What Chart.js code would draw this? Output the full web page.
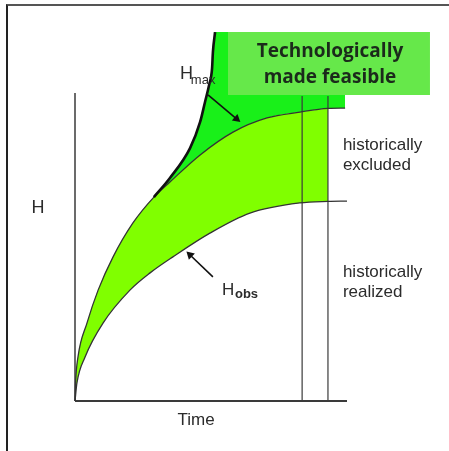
<!DOCTYPE html>
<html><head><meta charset="utf-8">
<script src="https://cdn.jsdelivr.net/npm/chart.js@4"></script>
<style>
html,body{margin:0;padding:0;background:#fff;}
#wrap{position:relative;width:449px;height:451px;overflow:hidden;}
canvas{display:block;}
#frame{position:absolute;left:6px;top:4px;width:443px;height:447px;border-top:2px solid #555;border-left:2px solid #222;box-sizing:border-box;pointer-events:none;}
</style></head><body>
<div id="wrap"><canvas id="c" width="449" height="451"></canvas><div id="frame"></div></div>
<script>
// ---- data (Time 0..100 along the axis, H 0..100 up the axis) ----
const upperTime = [0, 0.2, 1.1, 4.4, 8.5, 14.0, 21.3, 29.0, 34.9, 46.0, 58.1, 70.6, 82.7, 93.0, 99.3];
const upperH    = [0, 5.8, 14.3, 25.3, 36.0, 46.8, 57.8, 66.2, 71.1, 79.9, 87.3, 91.9, 93.8, 95.0, 95.1];
const obsTime   = [0, 0.7, 3.7, 10.3, 20.2, 27.6, 36.0, 49.6, 64.3, 82.7, 93.0, 100];
const obsH      = [0, 5.8, 14.3, 25.3, 36.0, 41.6, 46.8, 54.5, 61.0, 64.3, 64.8, 64.9];
const maxTime   = [29.0, 34.9, 42.3, 46.0, 47.8, 49.3, 50.4, 50.7, 51.5];
const maxH      = [66.2, 72.4, 82.1, 90.6, 97.1, 102.6, 108.1, 113.3, 119.8];
const axisEnd = 100;            // length of both drawn axes
const markerTimes = [83.5, 93.0]; // the two vertical lines
const markerTop = 99;
const bandEnd = 93.0;           // green band ends at the second marker
const feasibleStart = 51.0;
const feasibleTop = 119.8;      // top of the bright green region
const feasibleEnd = 99.3;
const boxCorners = {t0: 56.25, t1: 130.5, h0: 99.35, h1: 119.8};
const arrowMax = [[48.9, 99.4], [59.4, 91.6]];
const arrowObs = [[50.7, 40.3], [42.3, 47.4]];
const texts = [
  {s:'Technologically', t:93.75, h:113.6, font:'bold 19px "Open Sans"', color:'#1b2a1b', align:'center'},
  {s:'made feasible',   t:93.75, h:104.9, font:'bold 19px "Open Sans"', color:'#1b2a1b', align:'center'},
  {s:'historically', t:98.5, h:83.1, font:'17px "Liberation Sans"', color:'#2b2b2b', align:'left'},
  {s:'excluded',     t:98.5, h:76.6, font:'17px "Liberation Sans"', color:'#2b2b2b', align:'left'},
  {s:'historically', t:98.5, h:41.9, font:'17px "Liberation Sans"', color:'#2b2b2b', align:'left'},
  {s:'realized',     t:98.5, h:35.4, font:'17px "Liberation Sans"', color:'#2b2b2b', align:'left'},
  {s:'H',    t:-13.6, h:62.7, font:'18px "Liberation Sans"', color:'#2b2b2b', align:'center'},
  {s:'Time', t:44.5,  h:-6.2, font:'17px "Liberation Sans"', color:'#2b2b2b', align:'center'},
  {s:'H',   t:38.6, h:104.5, font:'18px "Liberation Sans"', color:'#2b2b2b', align:'left', base:'alphabetic'},
  {s:'max', t:42.6, h:103.0, font:'13px "Liberation Sans"', color:'#2b2b2b', align:'left', base:'alphabetic'},
  {s:'H',   t:54.0, h:34.4, font:'17px "Liberation Sans"', color:'#2b2b2b', align:'left', base:'alphabetic'},
  {s:'obs', t:58.8, h:33.4, font:'bold 13px "Liberation Sans"', color:'#2b2b2b', align:'left', base:'alphabetic'}
];

const pts = (ts, hs) => ts.map((t, i) => ({x: t, y: hs[i]}));
const upperPts = pts(upperTime, upperH);
const obsPts = pts(obsTime, obsH);
const maxPts = pts(maxTime, maxH);
const bandPts = upperPts.filter(p => p.x <= bandEnd);

const curve = {pointRadius: 0, fill: false, cubicInterpolationMode: 'monotone'};
const straight = {pointRadius: 0, fill: false, tension: 0};

function arrowRotation(a) {
  return (ctx) => {
    const sx = ctx.chart.scales.x, sy = ctx.chart.scales.y;
    const dx = sx.getPixelForValue(a[1][0]) - sx.getPixelForValue(a[0][0]);
    const dy = sy.getPixelForValue(a[1][1]) - sy.getPixelForValue(a[0][1]);
    return Math.atan2(dx, -dy) * 180 / Math.PI;
  };
}

const datasets = [
  // 0 upper curve line
  Object.assign({data: upperPts, borderColor: '#333', borderWidth: 1.3, order: 2}, curve),
  // 1 observed curve line
  Object.assign({data: obsPts, borderColor: '#333', borderWidth: 1.3, order: 2}, curve),
  // 2 Hmax line
  Object.assign({data: maxPts, borderColor: '#111', borderWidth: 2.6, order: 1}, curve),
  // 3 band fill
  Object.assign({}, curve, {data: bandPts, borderWidth: 0, borderColor: 'rgba(0,0,0,0)', backgroundColor: '#80ff00', fill: {target: 1}, order: 20}),
  // 4 Hmax region fill
  Object.assign({}, curve, {data: maxPts, borderWidth: 0, borderColor: 'rgba(0,0,0,0)', backgroundColor: '#19f019', fill: {target: 0}, order: 20}),
  // 5 region right of Hmax
  Object.assign({}, straight, {data: [{x: feasibleStart, y: feasibleTop}, {x: feasibleEnd, y: feasibleTop}], borderWidth: 0, borderColor: 'rgba(0,0,0,0)', backgroundColor: '#19f019', fill: {target: 0}, order: 20}),
  // 6 text box
  Object.assign({}, straight, {data: [{x: boxCorners.t0, y: boxCorners.h1}, {x: boxCorners.t1, y: boxCorners.h1}, {x: boxCorners.t1, y: boxCorners.h0}, {x: boxCorners.t0, y: boxCorners.h0}], borderWidth: 0, borderColor: 'rgba(0,0,0,0)', backgroundColor: '#66e84a', fill: 'shape', order: 0}),
  // 7 vertical axis
  Object.assign({data: [{x: 0, y: 0}, {x: 0, y: axisEnd}], borderColor: '#3a3a3a', borderWidth: 1.5, order: 3}, straight),
  // 8 horizontal axis
  Object.assign({data: [{x: 0, y: 0}, {x: axisEnd, y: 0}], borderColor: '#3a3a3a', borderWidth: 1.8, order: 3}, straight),
  // 9,10 marker lines
  Object.assign({data: [{x: markerTimes[0], y: 0}, {x: markerTimes[0], y: markerTop}], borderColor: '#3a3a3a', borderWidth: 1.2, order: 3}, straight),
  Object.assign({data: [{x: markerTimes[1], y: 0}, {x: markerTimes[1], y: markerTop}], borderColor: '#3a3a3a', borderWidth: 1.2, order: 3}, straight),
  // 11,12 arrows
  Object.assign({}, straight, {data: arrowMax.map(p => ({x: p[0], y: p[1]})), borderColor: '#111', borderWidth: 1.6, pointRadius: [0, 5], pointStyle: 'triangle', pointBackgroundColor: '#111', pointBorderWidth: 0, pointRotation: arrowRotation(arrowMax), order: 1}),
  Object.assign({}, straight, {data: arrowObs.map(p => ({x: p[0], y: p[1]})), borderColor: '#111', borderWidth: 1.6, pointRadius: [0, 5], pointStyle: 'triangle', pointBackgroundColor: '#111', pointBorderWidth: 0, pointRotation: arrowRotation(arrowObs), order: 1})
];

const textPlugin = {
  id: 'texts',
  afterDatasetsDraw(chart) {
    const c = chart.ctx, sx = chart.scales.x, sy = chart.scales.y;
    c.save();
    texts.forEach(o => {
      c.font = o.font; c.fillStyle = o.color; c.textAlign = o.align;
      c.textBaseline = o.base || 'middle';
      c.fillText(o.s, sx.getPixelForValue(o.t), sy.getPixelForValue(o.h));
    });
    c.restore();
  }
};

new Chart(document.getElementById('c'), {
  type: 'line',
  data: {datasets},
  options: {
    responsive: false, animation: false, events: [],
    layout: {padding: 0, autoPadding: false},
    plugins: {legend: {display: false}, tooltip: {enabled: false}, filler: {propagate: false}},
    scales: {
      x: {type: 'linear', display: false, min: -75/2.72, max: (449-75)/2.72},
      y: {type: 'linear', display: false, min: -(451-401)/3.08, max: 401/3.08}
    }
  },
  plugins: [textPlugin]
});
</script>
</body></html>
